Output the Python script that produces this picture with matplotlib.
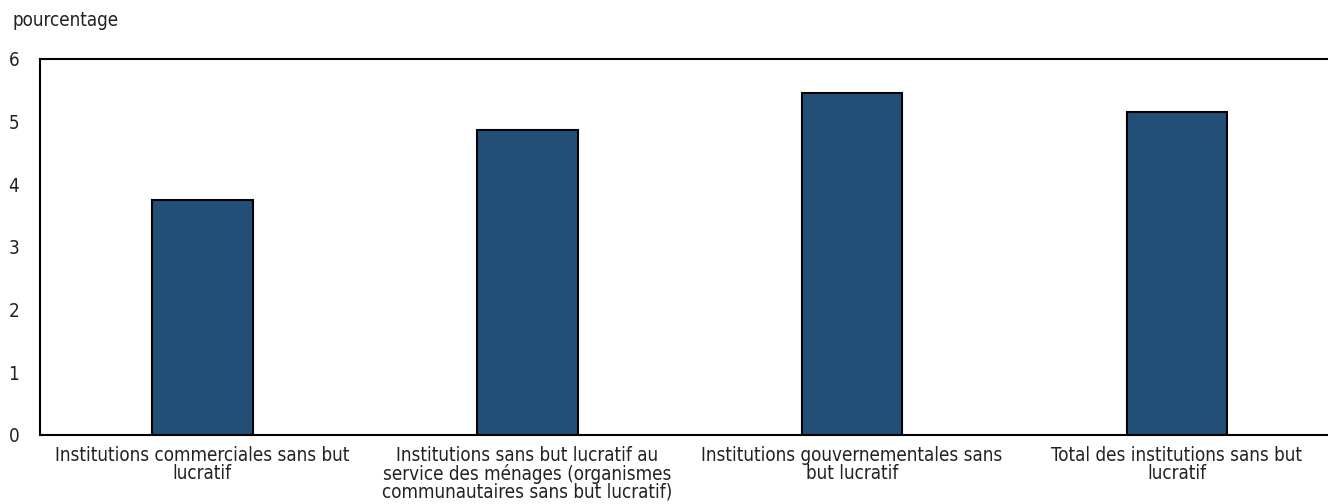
import matplotlib
matplotlib.use('Agg')
import matplotlib.pyplot as plt

categories = [
    'Institutions commerciales sans but\nlucratif',
    'Institutions sans but lucratif au\nservice des ménages (organismes\ncommunautaires sans but lucratif)',
    'Institutions gouvernementales sans\nbut lucratif',
    'Total des institutions sans but\nlucratif',
]
values = [3.75, 4.86, 5.45, 5.15]
yticks = [0, 1, 2, 3, 4, 5, 6]

plt.rcParams['font.family'] = ['DejaVu Sans']
plt.rcParams['font.stretch'] = 'condensed'
plt.rcParams['font.size'] = 13.5

fig = plt.figure(figsize=(13.28, 5.04), dpi=100)
ax = fig.add_axes([40 / 1328, 1 - 435 / 504, 1 - 40 / 1328, (435 - 59) / 504])

x = range(len(categories))
ax.bar(x, values, width=0.31, color='#224f78', edgecolor='black', linewidth=1.5)

ax.set_xlim(-0.5, 3.465)
ax.set_ylim(0, 6)
ax.set_yticks(yticks)
ax.set_xticks(list(x))
ax.set_xticklabels(categories, linespacing=0.9)
ax.tick_params(length=0, labelcolor='#222222')
ax.tick_params(axis='y', pad=15)
ax.tick_params(axis='x', pad=8)

for s in ['left', 'top', 'bottom']:
    ax.spines[s].set_linewidth(1.5)
ax.spines['right'].set_visible(False)

fig.text(12 / 1328, 1 - 20 / 504, 'pourcentage', fontsize=13.5, va='center', color='#222222')

fig.savefig('out.png', dpi=100)
